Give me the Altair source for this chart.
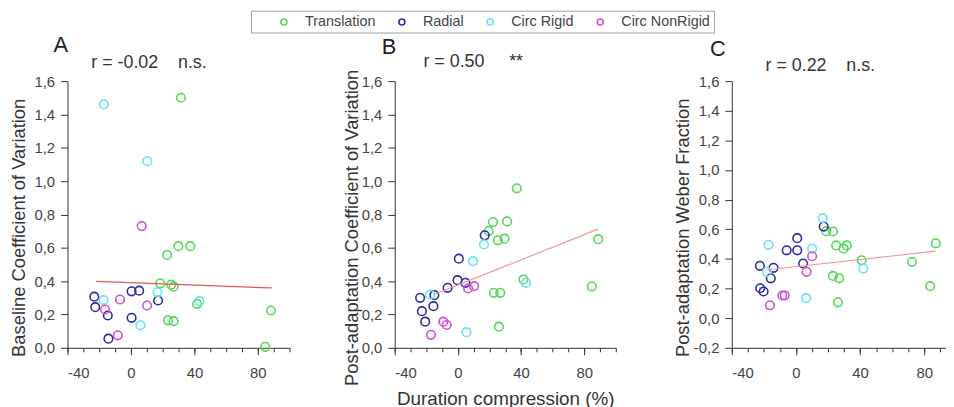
import altair as alt
import pandas as pd

groups = ["Translation", "Radial", "Circ Rigid", "Circ NonRigid"]
colors = ["#55d855", "#2c2ca0", "#62e6f0", "#d64cd6"]

# ---- Panel A: Baseline Coefficient of Variation ----
a_tr_x = [31.5, 29.9, 37.4, 22.8, 18.5, 25.4, 26.9, 23.3, 26.9, 41.7, 88.3, 84.6]
a_tr_y = [1.50, 0.61, 0.61, 0.557, 0.387, 0.379, 0.367, 0.165, 0.16, 0.264, 0.224, 0.006]
a_ra_x = [-23.1, -22.5, -14.6, -14.2, 0.4, 5.2, 0.4, 17.1]
a_ra_y = [0.307, 0.244, 0.194, 0.055, 0.339, 0.343, 0.18, 0.284]
a_cr_x = [-17.1, 10.3, -17.3, 16.7, 6.0, 43.1]
a_cr_y = [1.46, 1.12, 0.287, 0.333, 0.135, 0.28]
a_cn_x = [6.8, -16.3, -6.9, -8.3, 10.2]
a_cn_y = [0.73, 0.23, 0.29, 0.075, 0.254]
a_fit_x = [-22.1, 88.7]
a_fit_y = [0.398, 0.359]

# ---- Panel B: Post-adaptation Coefficient of Variation ----
b_tr_x = [37.3, 22.2, 31.2, 19.5, 25.3, 29.5, 88.8, 41.5, 22.8, 26.8, 84.8, 26.0]
b_tr_y = [0.957, 0.754, 0.758, 0.70, 0.645, 0.655, 0.652, 0.41, 0.33, 0.33, 0.368, 0.127]
b_ra_x = [-23.9, -14.9, -15.5, -22.8, -20.7, -6.5, -0.2, 4.8, 17.0, 0.6]
b_ra_y = [0.30, 0.316, 0.25, 0.22, 0.157, 0.36, 0.406, 0.39, 0.675, 0.535]
b_cr_x = [-17.6, 5.4, 16.5, 9.6, 43.1]
b_cr_y = [0.32, 0.094, 0.62, 0.52, 0.39]
b_cn_x = [-17.0, -9.2, -7.1, 6.5, 10.3]
b_cn_y = [0.078, 0.157, 0.137, 0.356, 0.37]
b_fit_x = [-15.5, 88.8]
b_fit_y = [0.318, 0.712]

# ---- Panel C: Post-adaptation Weber Fraction ----
c_tr_x = [18.9, 23.1, 25.1, 29.7, 31.7, 87.2, 41.0, 72.4, 83.7, 23.1, 27.0, 26.2]
c_tr_y = [0.587, 0.585, 0.491, 0.469, 0.491, 0.505, 0.391, 0.379, 0.216, 0.285, 0.269, 0.107]
c_ra_x = [17.3, 0.8, -5.8, 0.8, 4.5, -22.5, -14.0, -15.7, -22.3, -20.2]
c_ra_y = [0.618, 0.54, 0.458, 0.458, 0.369, 0.353, 0.34, 0.269, 0.202, 0.18]
c_cr_x = [16.7, -17.1, 10.1, -18.2, 6.4, 42.0]
c_cr_y = [0.675, 0.495, 0.469, 0.313, 0.135, 0.335]
c_cn_x = [10.1, 6.6, -8.5, -7.0, -16.3]
c_cn_y = [0.418, 0.313, 0.153, 0.153, 0.087]
c_fit_x = [-17.9, 87.2]
c_fit_y = [0.327, 0.452]

letters = ["A", "B", "C"]
r_labels = ["r = -0.02\u00a0\u00a0\u00a0 n.s.", "r = 0.50\u00a0\u00a0\u00a0\u00a0 **", "r = 0.22\u00a0\u00a0\u00a0 n.s."]
y_titles = ["Baseline Coefficient of Variation",
            "Post-adaptation Coefficient of Variation",
            "Post-adaptation Weber Fraction"]
x_title = "Duration compression (%)"
x_major = [-40, 0, 40, 80]
x_minor = [-40, -30, -20, -10, 0, 10, 20, 30, 40, 50, 60, 70, 80, 90, 100]
y_ticks_ab = [0.0, 0.2, 0.4, 0.6, 0.8, 1.0, 1.2, 1.4, 1.6]
y_ticks_c = [-0.2, 0.0, 0.2, 0.4, 0.6, 0.8, 1.0, 1.2, 1.4, 1.6]

H = 269
FONT = "Liberation Sans"
LBL = "replace(replace(format(datum.value, '.1f'), '.', ','), '\u2212', '-')"
XLBL = "replace(format(datum.value, 'd'), '\u2212', '-')"


def make_df(sets):
    rows = []
    for g, (xs, ys) in zip(groups, sets):
        for x, y in zip(xs, ys):
            rows.append({"x": x, "y": y, "group": g})
    return pd.DataFrame(rows)


def panel(sets, fit_x, fit_y, fit_color, ytitle, ydom, yvals, letter, rlab,
          width, xmax, letter_dx, letter_dy, r_dx, r_dy, show_xtitle, legend, ytp):
    df = make_df(sets)
    xscale = alt.Scale(domain=[-40, xmax], nice=False, zero=False)
    yscale = alt.Scale(domain=ydom, nice=False, zero=False)
    yaxis = alt.Axis(values=yvals, labelExpr=LBL, tickSize=7, labelPadding=6,
                     title=ytitle, titleY=H / 2 + 13, titlePadding=ytp,
                     titleFontSize=18.5, titleFontWeight="normal", titleColor="#333",
                     labelFontSize=15, labelColor="#444", grid=False,
                     domainColor="#333", tickColor="#333")
    minor_axis = alt.Axis(values=[v for v in x_minor if v <= xmax], labels=False,
                          tickSize=4, grid=False, orient="bottom", title=None,
                          domainColor="#333", tickColor="#333")
    major_kw = dict(values=x_major, labelExpr=XLBL, tickSize=7, labelPadding=11,
                    grid=False, orient="bottom", domain=False, tickColor="#333",
                    labelFontSize=15, labelColor="#444")
    if show_xtitle:
        major_axis = alt.Axis(title=x_title, titleFontSize=19, titleFontWeight="normal",
                              titleColor="#333", titlePadding=9, **major_kw)
    else:
        major_axis = alt.Axis(title=None, **major_kw)

    color_kw = dict(scale=alt.Scale(domain=groups, range=colors))
    if legend:
        color_kw["legend"] = alt.Legend(
            orient="none", legendX=185, legendY=-71, direction="horizontal",
            title=" ", titleOrient="left", titlePadding=22, titleFontSize=1,
            padding=4, strokeColor="#a0a0a0", fillColor="white",
            symbolType="circle", symbolSize=36, symbolStrokeWidth=1.6,
            labelFontSize=14.5, labelColor="#444", labelOffset=14,
            columnPadding=19, labelLimit=300)
    else:
        color_kw["legend"] = None

    pts = alt.Chart(df).mark_point(shape="circle", filled=False, size=75,
                                   strokeWidth=1.6, opacity=1).encode(
        x=alt.X("x:Q", scale=xscale, axis=minor_axis),
        y=alt.Y("y:Q", scale=yscale, axis=yaxis),
        color=alt.Color("group:N", **color_kw),
    )
    fit = alt.Chart(pd.DataFrame({"x": fit_x, "y": fit_y})).mark_line(
        color=fit_color, strokeWidth=1.2).encode(
        x=alt.X("x:Q", scale=xscale, axis=major_axis),
        y=alt.Y("y:Q", scale=yscale, axis=yaxis),
    )
    let = alt.Chart(pd.DataFrame({"t": [letter]})).mark_text(
        align="left", baseline="alphabetic", fontSize=22, color="#222").encode(
        text="t:N", x=alt.value(letter_dx), y=alt.value(letter_dy))
    rt = alt.Chart(pd.DataFrame({"t": [rlab]})).mark_text(
        align="left", baseline="alphabetic", fontSize=18, color="#333").encode(
        text="t:N", x=alt.value(r_dx), y=alt.value(r_dy))
    return alt.layer(pts, fit, let, rt).resolve_axis(x="independent").properties(
        width=width, height=H)


pa = panel([(a_tr_x, a_tr_y), (a_ra_x, a_ra_y), (a_cr_x, a_cr_y), (a_cn_x, a_cn_y)],
           a_fit_x, a_fit_y, "#e05a5a", y_titles[0], [0, 1.6], y_ticks_ab, letters[0],
           r_labels[0], 224, 100, -14, -29, 24, -13, False, True, 5)
pb = panel([(b_tr_x, b_tr_y), (b_ra_x, b_ra_y), (b_cr_x, b_cr_y), (b_cn_x, b_cn_y)],
           b_fit_x, b_fit_y, "#f09a9a", y_titles[1], [0, 1.6], y_ticks_ab, letters[1],
           r_labels[1], 223, 100, -13, -27, 29, -14, True, False, 0)
pc = panel([(c_tr_x, c_tr_y), (c_ra_x, c_ra_y), (c_cr_x, c_cr_y), (c_cn_x, c_cn_y)],
           c_fit_x, c_fit_y, "#f09a9a", y_titles[2], [-0.2, 1.6], y_ticks_c, letters[2],
           r_labels[2], 216, 93.6, -22, -25, 34, -10, False, False, 1)

chart = alt.hconcat(alt.hconcat(pa, pb, spacing=52), pc, spacing=57).properties(
    padding={"left": 2, "top": 0, "right": 0, "bottom": 0}).configure(
    font=FONT, background="white").configure_view(stroke=None)

chart.save("out.html", embed_options={"renderer": "svg", "actions": False})
